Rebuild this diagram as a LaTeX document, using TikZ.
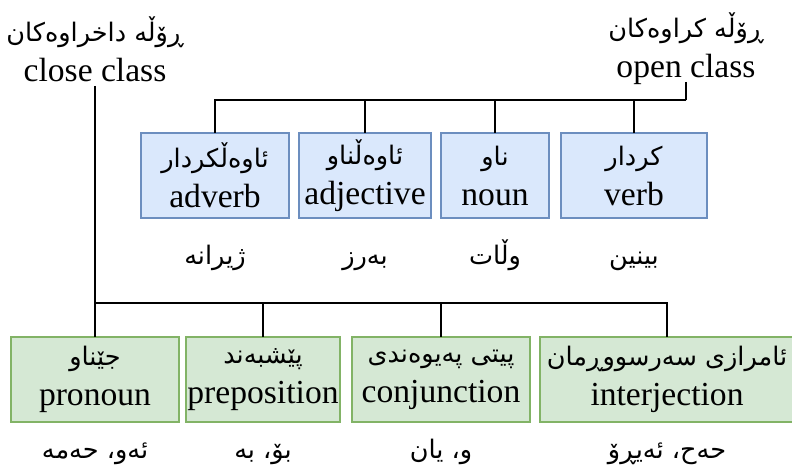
\documentclass[tikz,border=0pt]{standalone}
\usepackage{fontspec}
\setmainfont{Liberation Serif}
\newfontfamily\arabicfont[Script=Arabic,Scale=0.76]{DejaVu Sans}
\TeXXeTstate=1
\newcommand{\ku}[1]{{\arabicfont\beginR #1\endR}}
\usepackage{tikz}
\usetikzlibrary{positioning}

\definecolor{openfill}{HTML}{DAE8FC}
\definecolor{opendraw}{HTML}{6C8EBF}
\definecolor{closefill}{HTML}{D5E8D4}
\definecolor{closedraw}{HTML}{82B366}

\begin{document}
\begin{tikzpicture}[x=1pt,y=-1pt,line width=1.2pt,node distance=10pt,
                    font=\fontsize{33.6}{40}\selectfont]
  \tikzstyle{every node}=[align=center]
  \tikzstyle{wordbox}=[rectangle,minimum height=85pt,inner xsep=0pt,outer sep=0pt]
  \tikzstyle{openbox}=[wordbox,draw=opendraw,fill=openfill]
  \tikzstyle{closebox}=[wordbox,draw=closedraw,fill=closefill]
  \tikzstyle{classlabel}=[anchor=south,inner sep=0pt,text depth=3.5pt]
  \tikzstyle{example}=[text height=16pt,text depth=6pt]

  \useasboundingbox (0,0) rectangle (792,470);

  % the two classes
  \node[classlabel] (close) at (95,86)  {\ku{ڕۆڵە داخراوەکان}\\close class};
  \node[classlabel] (open)  at (686,82) {\ku{ڕۆڵە کراوەکان}\\open class};

  % open class words
  \node[openbox,minimum width=148pt] (adverb) at (215,175.5) {\ku{ئاوەڵکردار}\\adverb};
  \node[openbox,minimum width=132pt,right=10pt of adverb]    (adjective) {\ku{ئاوەڵناو}\\adjective};
  \node[openbox,minimum width=108pt,right=10pt of adjective] (noun)      {\ku{ناو}\\noun};
  \node[openbox,minimum width=146pt,right=12pt of noun]      (verb)      {\ku{کردار}\\verb};

  % close class words
  \node[closebox,minimum width=168pt] (pronoun) at (95,379.5) {\ku{جێناو}\\pronoun};
  \node[closebox,minimum width=154pt,right=7pt of pronoun]      (preposition)  {\ku{پێشبەند}\\preposition};
  \node[closebox,minimum width=178pt,right=12pt of preposition] (conjunction)  {\ku{پیتی پەیوەندی}\\conjunction};
  \node[closebox,minimum width=254pt,right=10pt of conjunction] (interjection) {\ku{ئامرازی سەرسووڕمان}\\interjection};

  % examples
  \node[example] (adverbex)    at ([yshift=-42pt]adverb.south)    {\ku{ژیرانە}};
  \node[example] (adjectiveex) at ([yshift=-42pt]adjective.south) {\ku{بەرز}};
  \node[example] (nounex)      at ([yshift=-42pt]noun.south)      {\ku{وڵات}};
  \node[example] (verbex)      at ([yshift=-42pt]verb.south)      {\ku{بینین}};
  \node[example] (pronounex)      at ([yshift=-31pt]pronoun.south)      {\ku{ئەو، حەمە}};
  \node[example] (prepositionex)  at ([yshift=-31pt]preposition.south)  {\ku{بۆ، بە}};
  \node[example] (conjunctionex)  at ([yshift=-31pt]conjunction.south)  {\ku{و، یان}};
  \node[example] (interjectionex) at ([yshift=-31pt]interjection.south) {\ku{حەح، ئەیڕۆ}};

  % tree lines
  \coordinate (openbus)  at (686,100);
  \coordinate (closebus) at (95,303);
  \draw (open.south) -- (open.south |- openbus);
  \foreach \n in {adverb,adjective,noun,verb}
    \draw (open.south |- openbus) -| (\n.north);
  \draw (close.south) -- (close.south |- closebus);
  \foreach \n in {pronoun,preposition,conjunction,interjection}
    \draw (close.south |- closebus) -| (\n.north);
\end{tikzpicture}
\end{document}
